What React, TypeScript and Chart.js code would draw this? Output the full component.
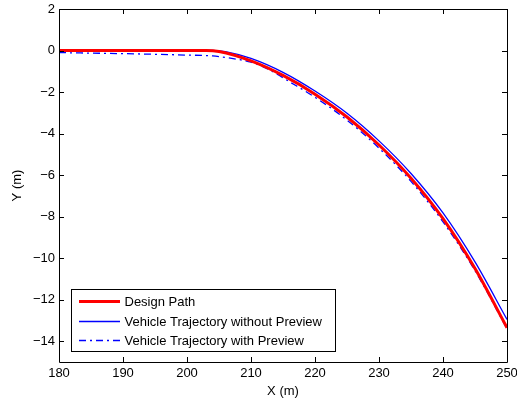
import React, { useEffect, useRef } from "react";
import { Chart, registerables } from "chart.js";

Chart.register(...registerables);

// Design path
const designX = [180, 190, 200, 203, 205, 210, 215, 220, 225, 230, 235, 240, 245, 250];
const designY = [0, 0, 0, 0, -0.05, -0.5, -1.2, -2.1, -3.2, -4.55, -6.15, -8.1, -10.5, -13.35];

// Vehicle trajectory without preview
const noPrevX = [180, 190, 200, 204, 206, 210, 215, 220, 225, 230, 235, 240, 245, 250];
const noPrevY = [0.02, 0.02, 0.02, 0.01, -0.05, -0.38, -1.05, -1.95, -3.02, -4.35, -5.92, -7.82, -10.18, -12.95];

// Vehicle trajectory with preview
const prevX = [180, 190, 200, 204, 207, 210, 213, 216, 220, 225, 230, 235, 240, 245, 250];
const prevY = [-0.1, -0.15, -0.22, -0.26, -0.38, -0.56, -0.95, -1.5, -2.25, -3.35, -4.7, -6.3, -8.25, -10.6, -13.4];

const seriesLabels = [
  "Design Path",
  "Vehicle Trajectory without Preview",
  "Vehicle Trajectory with Preview",
];

const xTicks = [180, 190, 200, 210, 220, 230, 240, 250];
const yTicks = [-14, -12, -10, -8, -6, -4, -2, 0, 2];

const FONT = "'Liberation Sans', Arial, Helvetica, sans-serif";

const zip = (xs: number[], ys: number[]) => xs.map((x, i) => ({ x, y: ys[i] }));

const fmt = (v: number) => (v < 0 ? "\u2212" + Math.abs(v) : String(v));

const boxPlugin = {
  id: "matlabBox",
  afterDatasetsDraw(chart: any) {
    const { ctx, chartArea: a, scales } = chart;
    ctx.save();
    ctx.strokeStyle = "#000";
    ctx.lineWidth = 1;
    ctx.beginPath();
    ctx.rect(Math.round(a.left) + 0.5, Math.round(a.top) + 0.5, Math.round(a.right - a.left), Math.round(a.bottom - a.top));
    ctx.stroke();
    const tl = 5;
    ctx.beginPath();
    for (const t of scales.x.ticks) {
      const px = Math.round(scales.x.getPixelForValue(t.value)) + 0.5;
      ctx.moveTo(px, a.bottom);
      ctx.lineTo(px, a.bottom - tl);
      ctx.moveTo(px, a.top);
      ctx.lineTo(px, a.top + tl);
    }
    for (const t of scales.y.ticks) {
      const py = Math.round(scales.y.getPixelForValue(t.value)) + 0.5;
      ctx.moveTo(a.left, py);
      ctx.lineTo(a.left + tl, py);
      ctx.moveTo(a.right, py);
      ctx.lineTo(a.right - tl, py);
    }
    ctx.stroke();
    ctx.restore();
  },
  afterDraw(chart: any) {
    const { ctx } = chart;
    const bx = 71.5, by = 289.5, bw = 264, bh = 62;
    ctx.save();
    ctx.fillStyle = "#fff";
    ctx.fillRect(bx, by, bw, bh);
    ctx.strokeStyle = "#000";
    ctx.lineWidth = 1;
    ctx.strokeRect(bx, by, bw, bh);
    const rows = [301, 321, 340];
    chart.data.datasets.forEach((ds: any, i: number) => {
      const y = rows[i];
      ctx.beginPath();
      ctx.strokeStyle = ds.borderColor;
      ctx.lineWidth = ds.borderWidth;
      ctx.setLineDash(ds.borderDash || []);
      ctx.moveTo(79, y + 0.5);
      ctx.lineTo(120, y + 0.5);
      ctx.stroke();
      ctx.setLineDash([]);
      ctx.fillStyle = "#000";
      ctx.font = `13px ${FONT}`;
      ctx.textBaseline = "middle";
      ctx.textAlign = "left";
      ctx.fillText(ds.label, 124.5, y + 1);
    });
    ctx.restore();
  },
};

export default function App() {
  const ref = useRef<HTMLCanvasElement | null>(null);
  useEffect(() => {
    document.body.style.margin = "0";
    if (!ref.current) return;
    Chart.defaults.color = "#000";
    const chart = new Chart(ref.current, {
      type: "line",
      data: {
        datasets: [
          {
            label: seriesLabels[0],
            data: zip(designX, designY),
            borderColor: "#ff0000",
            borderWidth: 3,
            pointRadius: 0,
            cubicInterpolationMode: "monotone",
          },
          {
            label: seriesLabels[1],
            data: zip(noPrevX, noPrevY),
            borderColor: "#0000ff",
            borderWidth: 1.3,
            pointRadius: 0,
            cubicInterpolationMode: "monotone",
          },
          {
            label: seriesLabels[2],
            data: zip(prevX, prevY),
            borderColor: "#0000ff",
            borderWidth: 1.3,
            borderDash: [7, 4, 2, 4],
            pointRadius: 0,
            cubicInterpolationMode: "monotone",
          },
        ] as any,
      },
      plugins: [boxPlugin],
      options: {
        animation: false,
        responsive: false,
        maintainAspectRatio: false,
        layout: { padding: { top: 9, right: 10, left: 0, bottom: 0 } },
        plugins: { legend: { display: false }, tooltip: { enabled: false } },
        scales: {
          x: {
            type: "linear",
            min: 180,
            max: 250,
            afterFit: (s: any) => { s.height = 37; s.paddingLeft = 0; s.paddingRight = 0; },
            afterBuildTicks: (s: any) => { s.ticks = xTicks.map((v) => ({ value: v })); },
            grid: { display: false, drawTicks: false },
            border: { display: false },
            ticks: { padding: 4, font: { family: FONT, size: 13 }, color: "#000", callback: (v: any) => fmt(Number(v)) },
            title: { display: true, text: "X (m)", font: { family: FONT, size: 13 }, color: "#000", padding: { top: 0, bottom: 0 } },
          },
          y: {
            type: "linear",
            min: -15,
            max: 2,
            afterFit: (s: any) => { s.width = 59; s.paddingTop = 0; s.paddingBottom = 0; },
            afterBuildTicks: (s: any) => { s.ticks = yTicks.map((v) => ({ value: v })); },
            grid: { display: false, drawTicks: false },
            border: { display: false },
            ticks: { padding: 4, font: { family: FONT, size: 13 }, color: "#000", callback: (v: any) => fmt(Number(v)) },
            title: { display: true, text: "Y (m)", font: { family: FONT, size: 13 }, color: "#000", padding: { top: 10, bottom: 0 } },
          },
        },
      } as any,
    });
    return () => chart.destroy();
  }, []);
  return (
    <div style={{ width: 517, height: 399, background: "#fff" }}>
      <canvas ref={ref} width={517} height={399} style={{ display: "block" }} />
    </div>
  );
}
